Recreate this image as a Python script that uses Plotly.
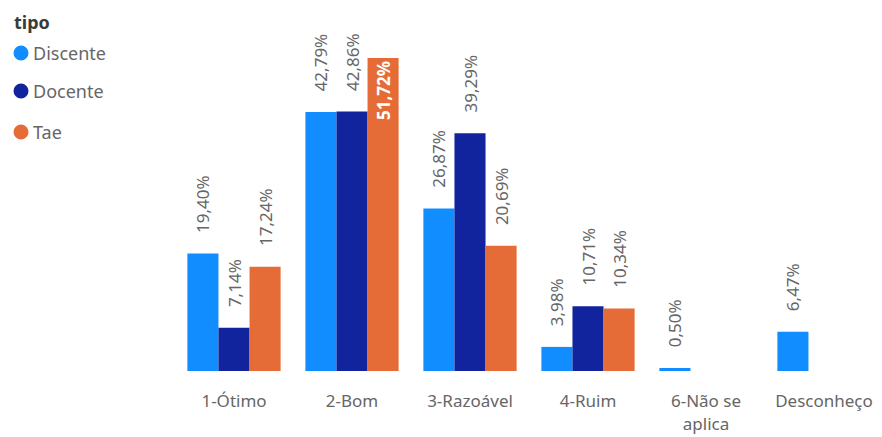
import plotly.graph_objects as go

categories = ["1-Ótimo", "2-Bom", "3-Razoável", "4-Ruim", "6-Não se<br>aplica", "Desconheço"]
discente = [19.40, 42.79, 26.87, 3.98, 0.50, 6.47]
docente = [7.14, 42.86, 39.29, 10.71, None, None]
tae = [17.24, 51.72, 20.69, 10.34, None, None]
legend_title = "tipo"

series = [("Discente", discente, "#118DFF"), ("Docente", docente, "#12239E"), ("Tae", tae, "#E66C37")]

def fmt(v):
    return "" if v is None else f"{v:.2f}".replace(".", ",") + "%"

FONT = "Noto Sans, Open Sans, sans-serif"
GRAY = "#666666"

# layout geometry (figure pixels)
W, H = 882, 437
L, R, T, B = 167, 7, 32, 74
PW, PH = W - L - R, H - T - B

def px(x):
    return (x - L) / PW

def py(y):
    return (H - B - y) / PH

fig = go.Figure()
maxv = max(v for _, vals, _ in series for v in vals if v is not None)
for name, vals, color in series:
    pos = ["inside" if (v is not None and v == maxv) else "outside" for v in vals]
    texts = []
    for v in vals:
        if v is None:
            texts.append("")
        elif v == maxv:
            texts.append("<b>" + fmt(v) + "</b>")
        else:
            texts.append("\u00a0" * 4 + fmt(v))
    fig.add_trace(go.Bar(
        x=categories, y=vals, name=name, marker_color=color, showlegend=False,
        text=texts, textposition=pos, textangle=-90, constraintext="none",
        insidetextanchor="end",
        outsidetextfont=dict(color=GRAY, size=17, family=FONT),
        insidetextfont=dict(color="white", size=17, family=FONT),
        cliponaxis=False, marker_line_width=0,
    ))

shapes = []
annotations = [dict(
    xref="paper", yref="paper", x=px(4), y=py(14), xanchor="left", yanchor="middle",
    text="<b>" + legend_title + "</b>", showarrow=False,
    font=dict(size=18, color="#3a3a3a", family=FONT),
)]
row_y = [45, 83, 124]
for (name, vals, color), yy in zip(series, row_y):
    shapes.append(dict(
        type="circle", xref="paper", yref="paper", xsizemode="pixel", ysizemode="pixel",
        xanchor=px(13), yanchor=py(yy), x0=-7.5, x1=7.5, y0=-7.5, y1=7.5,
        fillcolor=color, line=dict(width=0),
    ))
    annotations.append(dict(
        xref="paper", yref="paper", x=px(23), y=py(yy), xanchor="left", yanchor="middle",
        text=name, showarrow=False, font=dict(size=18, color=GRAY, family=FONT),
    ))

fig.update_layout(
    width=W, height=H,
    margin=dict(l=L, r=R, t=T, b=B),
    plot_bgcolor="white", paper_bgcolor="white",
    barmode="group", bargap=0.21, bargroupgap=0,
    font=dict(family=FONT, color=GRAY),
    showlegend=False,
    shapes=shapes, annotations=annotations,
    xaxis=dict(showgrid=False, showline=False, ticks="outside", ticklen=15, tickcolor="white",
               tickfont=dict(size=17, color=GRAY), range=[-0.5, 5.5]),
    yaxis=dict(visible=False, range=[0, 51.72 * PH / 313], showgrid=False),
)
fig.write_html("out.html")
